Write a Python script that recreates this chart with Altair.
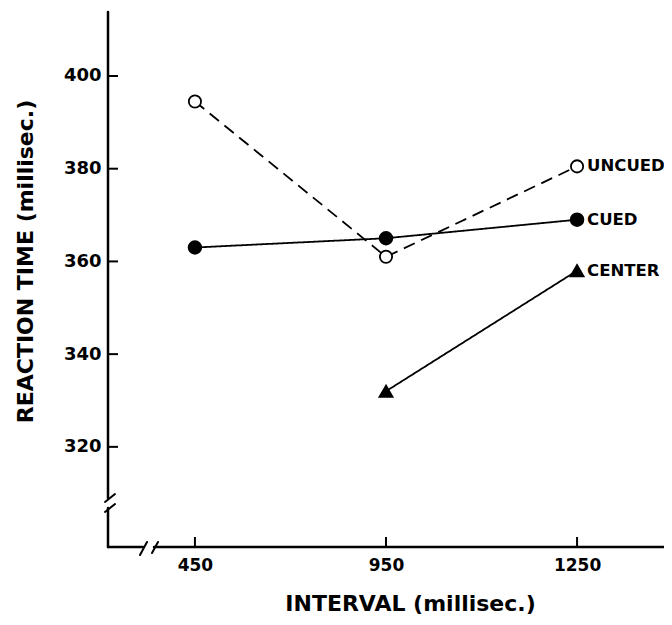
import altair as alt
import pandas as pd

intervals = ["450", "950", "1250"]
conditions = ["UNCUED", "CUED", "CENTER"]
uncued_rt = [394.5, 361.0, 380.5]
cued_rt = [363.0, 365.0, 369.0]
center_intervals = ["950", "1250"]
center_rt = [332.0, 358.0]
y_ticks = [320, 340, 360, 380, 400]

rows = []
for iv, v in zip(intervals, uncued_rt):
    rows.append({"condition": "UNCUED", "interval": iv, "rt": v})
for iv, v in zip(intervals, cued_rt):
    rows.append({"condition": "CUED", "interval": iv, "rt": v})
for iv, v in zip(center_intervals, center_rt):
    rows.append({"condition": "CENTER", "interval": iv, "rt": v})
df = pd.DataFrame(rows)
tick_y_df = pd.DataFrame({"rt": y_ticks})
tick_x_df = pd.DataFrame({"interval": intervals})

W, H = 556, 535
FONT = "DejaVu Sans"

x_scale = alt.Scale(type="point", padding=0.455)
y_scale = alt.Scale(domain=[298.4, 413.8], nice=False, zero=False)

x = alt.X(
    "interval:O",
    sort=intervals,
    scale=x_scale,
    axis=alt.Axis(
        title="INTERVAL (millisec.)",
        domain=False, grid=False, ticks=False, tickSize=0,
        labelAngle=0, labelFont=FONT, labelFontSize=17, labelFontWeight="bold",
        labelColor="black", labelPadding=10,
        titleFont=FONT, titleFontSize=22, titleFontWeight="bold", titleColor="black",
        titleX=302, titleY=56, titleAlign="center", titleBaseline="middle",
    ),
)
y = alt.Y(
    "rt:Q",
    scale=y_scale,
    axis=alt.Axis(
        values=y_ticks, title="REACTION TIME  (millisec.)",
        domain=False, grid=False, ticks=False, tickSize=0,
        labelFont=FONT, labelFontSize=18, labelFontWeight="bold",
        labelColor="black", labelPadding=7,
        titleFont=FONT, titleFontSize=22, titleFontWeight="bold", titleColor="black",
        titleX=-83, titleY=249, titleAngle=270, titleAlign="center", titleBaseline="middle",
    ),
)

base = alt.Chart(df).encode(x=x, y=y)

lines = base.mark_line(color="black", strokeWidth=1.8).encode(
    strokeDash=alt.StrokeDash(
        "condition:N",
        scale=alt.Scale(domain=conditions, range=[[12, 7], [1, 0], [1, 0]]),
        legend=None,
    ),
    detail="condition:N",
)

points = base.mark_point(filled=True, opacity=1, stroke="black", strokeWidth=1.8).encode(
    shape=alt.Shape("condition:N", scale=alt.Scale(domain=conditions, range=["circle", "circle", "triangle-up"]), legend=None),
    fill=alt.Fill("condition:N", scale=alt.Scale(domain=conditions, range=["white", "black", "black"]), legend=None),
    size=alt.Size("condition:N", scale=alt.Scale(domain=conditions, range=[150, 170, 280]), legend=None),
)

labels = base.transform_filter(alt.datum.interval == "1250").mark_text(
    align="left", baseline="middle", dx=10, font=FONT, fontSize=16.5, fontWeight="bold", color="black"
).encode(text="condition:N")

y_tick_marks = alt.Chart(tick_y_df).mark_rule(color="black", strokeWidth=2).encode(
    y=y, x=alt.value(0), x2=alt.value(10),
)
x_tick_marks = alt.Chart(tick_x_df).mark_rule(color="black", strokeWidth=2).encode(
    x=x, y=alt.value(H - 10), y2=alt.value(H),
)


def seg(x1, y1, x2, y2, w=2.5):
    return alt.Chart(alt.Data(values=[{"k": 1}])).mark_rule(color="black", strokeWidth=w, strokeCap="round").encode(
        x=alt.value(x1), y=alt.value(y1), x2=alt.value(x2), y2=alt.value(y2)
    )


deco = [
    seg(0, 0, 0, 486),
    seg(0, 496, 0, H),
    seg(-3, 490, 7, 482, 2),
    seg(-3, 500, 7, 492, 2),
    seg(0, H, 35, H),
    seg(46, H, W, H),
    seg(32, 543, 39, 530, 2),
    seg(44, 541, 50, 530, 2),
]

chart = alt.layer(lines, points, labels, y_tick_marks, x_tick_marks, *deco).properties(
    width=W, height=H,
    padding={"left": 100, "top": 4, "right": 0, "bottom": 70},
    autosize=alt.AutoSizeParams(type="none"),
).configure_view(stroke=None)

chart.save("out.html", embed_options={"renderer": "svg", "actions": False})
